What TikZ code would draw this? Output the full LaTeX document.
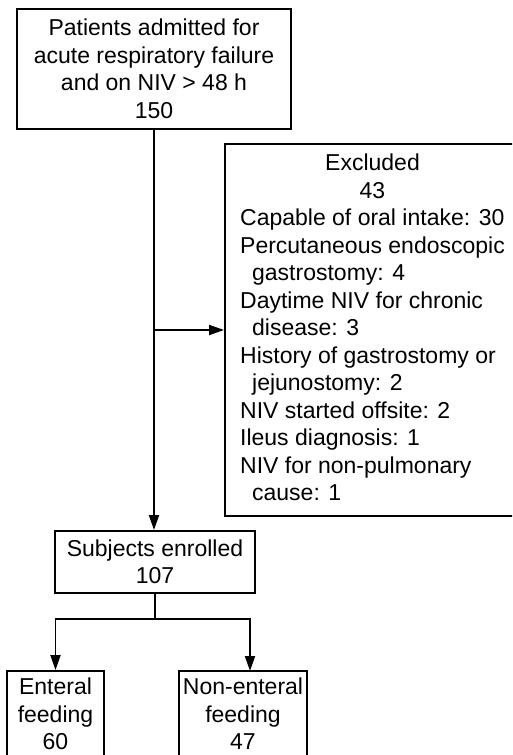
\documentclass[tikz,border=0pt]{standalone}
\usepackage{fontspec}
\setmainfont{Liberation Sans}
\usetikzlibrary{arrows.meta}
\begin{document}
\begin{tikzpicture}[x=1pt,y=-1pt,
  box/.style={draw, line width=1.9pt, inner sep=0pt, align=center,
    font=\fontsize{23}{27.5}\selectfont},
  arr/.style={line width=1.9pt, -{Triangle[length=15pt,width=10pt]}},
  ln/.style={line width=1.9pt}]
\useasboundingbox (0,0) rectangle (512,755);
\clip (0,0) rectangle (512,755);
\node[box, minimum width=274pt, minimum height=120pt] (top) at (154,69)
  {Patients admitted for\\acute respiratory failure\\and on NIV > 48 h\\150};
\node[box, minimum width=295pt, minimum height=372pt] (excl) at (372.5,330)
  {\begin{tabular}{@{}l@{}}
   \multicolumn{1}{@{}c@{}}{Excluded}\\
   \multicolumn{1}{@{}c@{}}{43}\\
   Capable of oral intake: 30\\
   Percutaneous endoscopic\\
   \hspace*{12pt}gastrostomy: 4\\
   Daytime NIV for chronic\\
   \hspace*{12pt}disease: 3\\
   History of gastrostomy or\\
   \hspace*{12pt}jejunostomy: 2\\
   NIV started offsite: 2\\
   Ileus diagnosis: 1\\
   NIV for non-pulmonary\\
   \hspace*{12pt}cause: 1
   \end{tabular}};
\node[box, minimum width=200pt, minimum height=62pt] (subj) at (155,562)
  {Subjects enrolled\\107};
\node[box, minimum width=97pt, minimum height=86pt] (ent) at (55.5,714)
  {Enteral\\feeding\\60};
\node[box, minimum width=128pt, minimum height=86pt] (non) at (243,714)
  {Non-enteral\\feeding\\47};
\draw[arr] (top.south) -- (top.south |- subj.north);
\coordinate (br) at (top.south |- excl.west);
\draw[arr] (br) -- (excl.west);
\draw[ln] (subj.south) -- ++(0,25) coordinate (sp);
\coordinate (nr) at (250,671);
\draw[arr] (sp) -| (ent.north);
\draw[arr] (sp) -| (nr);
\end{tikzpicture}
\end{document}
